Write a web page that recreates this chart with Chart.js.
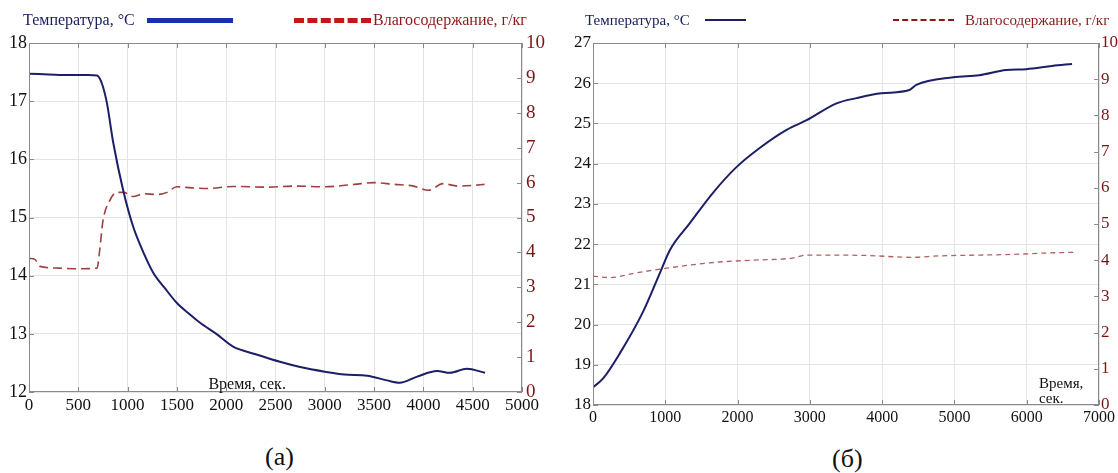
<!DOCTYPE html>
<html>
<head>
<meta charset="utf-8">
<script src="https://cdn.jsdelivr.net/npm/chart.js@4/dist/chart.umd.min.js"></script>
<style>
  body { margin: 0; background: #fff; width: 1118px; height: 473px; overflow: hidden; position: relative;
         font-family: 'Liberation Serif', 'DejaVu Serif', serif; }
  .box { position: absolute; }
  .lg { position: absolute; white-space: nowrap; line-height: 1; }
  .cap { position: absolute; font-size: 26px; line-height: 1; color: #111; }
</style>
</head>
<body>
<div class="box" style="left:0;top:0;width:560px;height:420px"><canvas id="chartA" width="560" height="420"></canvas></div>
<div class="box" style="left:560px;top:0;width:558px;height:440px"><canvas id="chartB" width="558" height="440"></canvas></div>

<!-- legends -->
<div class="lg" style="left:23px;top:12px;font-size:16px;color:#1c2060">Температура, °С</div>
<div class="lg" style="left:147px;top:18px;width:86px;height:0;border-top:5px solid #1530b0"></div>
<div class="lg" style="left:294px;top:18px;width:77px;height:0;border-top:5px dashed #c41818"></div>
<div class="lg" style="left:373px;top:12px;font-size:16px;color:#8a1818">Влагосодержание, г/кг</div>

<div class="lg" style="left:585px;top:13px;font-size:15px;color:#1c2060">Температура, °С</div>
<div class="lg" style="left:705px;top:19px;width:41px;height:0;border-top:2px solid #1c2060"></div>
<div class="lg" style="left:893px;top:19px;width:61px;height:0;border-top:2px dashed #8a1818"></div>
<div class="lg" style="left:965px;top:13px;font-size:15px;color:#8a1818">Влагосодержание, г/кг</div>

<div class="cap" style="left:265px;top:444px">(а)</div>
<div class="cap" style="left:832px;top:446px">(б)</div>

<script>
// ── Data: panel (а) ──────────────────────────────────────────────────────────
const tempTimeA = [0, 200, 400, 600, 690, 740, 790, 855, 955, 1057, 1160, 1260, 1380, 1500, 1620, 1735, 1900, 2070, 2300, 2545, 2750, 3000, 3200, 3430, 3630, 3760, 3930, 4140, 4270, 4440, 4625];
const tempValA  = [17.47, 17.46, 17.45, 17.45, 17.44, 17.3, 16.97, 16.28, 15.47, 14.84, 14.4, 14.05, 13.78, 13.53, 13.35, 13.19, 13.0, 12.78, 12.65, 12.52, 12.43, 12.35, 12.3, 12.28, 12.2, 12.16, 12.26, 12.36, 12.33, 12.4, 12.33];
const humTimeA  = [0, 60, 110, 300, 500, 690, 720, 750, 820, 890, 960, 1057, 1160, 1300, 1400, 1500, 1650, 1800, 2070, 2400, 2700, 3000, 3300, 3500, 3700, 3900, 4050, 4200, 4350, 4500, 4620];
const humValA   = [3.83, 3.8, 3.6, 3.55, 3.53, 3.55, 4.14, 4.9, 5.49, 5.72, 5.72, 5.6, 5.68, 5.66, 5.72, 5.88, 5.85, 5.83, 5.89, 5.87, 5.9, 5.88, 5.95, 6.0, 5.95, 5.9, 5.78, 5.97, 5.9, 5.92, 5.95];

// ── Data: panel (б) ──────────────────────────────────────────────────────────
const tempTimeB = [0, 140, 373, 690, 925, 1063, 1340, 1657, 1988, 2306, 2678, 2955, 3369, 3645, 3990, 4377, 4473, 4984, 5343, 5716, 5992, 6351, 6627];
const tempValB  = [18.44, 18.66, 19.29, 20.31, 21.28, 21.85, 22.52, 23.27, 23.92, 24.39, 24.84, 25.08, 25.5, 25.63, 25.75, 25.83, 25.96, 26.15, 26.2, 26.33, 26.35, 26.43, 26.48];
const humTimeB  = [0, 235, 600, 1020, 1400, 1750, 2200, 2760, 2955, 3369, 3800, 4400, 4800, 5300, 5800, 6300, 6700];
const humValB   = [3.56, 3.52, 3.65, 3.78, 3.88, 3.95, 4.0, 4.06, 4.14, 4.14, 4.13, 4.08, 4.12, 4.14, 4.16, 4.2, 4.22];

const NAVY = '#1c1f66';
const DARKRED = '#7a1515';
const FONT = 'Liberation Serif';

const pairs = (xs, ys) => xs.map((x, i) => ({ x, y: ys[i] }));

// ── Frame + inward tick marks ────────────────────────────────────────────────
const framePlugin = {
    id: 'frame',
    afterDraw(chart, args, opts) {
        const { ctx, chartArea: a, scales } = chart;
        ctx.save();
        ctx.strokeStyle = '#8a8a8a';
        ctx.lineWidth = 1;
        ctx.strokeRect(a.left + 0.5, a.top + 0.5, a.right - a.left - 1, a.bottom - a.top - 1);
        ctx.beginPath();
        scales.x.ticks.forEach(t => {
            const px = Math.round(scales.x.getPixelForValue(t.value)) + 0.5;
            ctx.moveTo(px, a.bottom); ctx.lineTo(px, a.bottom - 5);
            ctx.moveTo(px, a.top); ctx.lineTo(px, a.top + 5);
        });
        scales.y.ticks.forEach(t => {
            const py = Math.round(scales.y.getPixelForValue(t.value)) + 0.5;
            ctx.moveTo(a.left, py); ctx.lineTo(a.left + 5, py);
        });
        scales.y2.ticks.forEach(t => {
            const py = Math.round(scales.y2.getPixelForValue(t.value)) + 0.5;
            ctx.moveTo(a.right, py); ctx.lineTo(a.right - 5, py);
        });
        ctx.stroke();
        // axis caption inside the plot
        ctx.fillStyle = '#111';
        ctx.font = `${opts.size}px "${FONT}"`;
        ctx.textAlign = 'left';
        ctx.textBaseline = 'middle';
        opts.lines.forEach((line, i) => {
            const px = scales.x.getPixelForValue(opts.at[0]);
            const py = scales.y.getPixelForValue(opts.at[1]) + i * opts.size;
            ctx.fillText(line, px, py);
        });
        ctx.restore();
    }
};

function makeChart(id, cfg) {
    return new Chart(document.getElementById(id), {
        type: 'line',
        data: {
            datasets: [
                {
                    label: 'Температура, °С',
                    data: pairs(cfg.tTime, cfg.tVal),
                    borderColor: NAVY,
                    borderWidth: 2,
                    pointRadius: 0,
                    cubicInterpolationMode: 'monotone',
                    yAxisID: 'y',
                },
                {
                    label: 'Влагосодержание, г/кг',
                    data: pairs(cfg.hTime, cfg.hVal),
                    borderColor: cfg.dashColor,
                    borderWidth: cfg.dashWidth,
                    borderDash: cfg.dash,
                    pointRadius: 0,
                    cubicInterpolationMode: 'monotone',
                    yAxisID: 'y2',
                }
            ]
        },
        options: {
            responsive: false,
            animation: false,
            layout: { padding: { top: 43, left: 0, right: 0, bottom: 0 } },
            plugins: {
                legend: { display: false },
                tooltip: { enabled: false },
                frame: cfg.caption,
            },
            scales: {
                x: {
                    type: 'linear', min: 0, max: cfg.xMax,
                    ticks: {
                        stepSize: cfg.xStep, color: '#111', font: { family: FONT, size: cfg.xFont },
                        padding: 3, maxRotation: 0, callback: v => String(v)
                    },
                    grid: { color: '#e4e4e4', drawTicks: false },
                    border: { display: false },
                    afterFit: s => { s.height = cfg.xH; }
                },
                y: {
                    position: 'left', min: cfg.yMin, max: cfg.yMax,
                    ticks: { stepSize: 1, color: '#111', font: { family: FONT, size: cfg.yFont }, padding: 2 },
                    grid: { color: '#e4e4e4', drawTicks: false },
                    border: { display: false },
                    afterFit: s => { s.width = cfg.yW; }
                },
                y2: {
                    position: 'right', min: 0, max: 10,
                    ticks: { stepSize: 1, color: DARKRED, font: { family: FONT, size: cfg.y2Font }, padding: cfg.y2Pad },
                    grid: { display: false, drawTicks: false },
                    border: { display: false },
                    afterFit: s => { s.width = cfg.y2W; }
                }
            }
        },
        plugins: [framePlugin]
    });
}

makeChart('chartA', {
    tTime: tempTimeA, tVal: tempValA, hTime: humTimeA, hVal: humValA,
    dashColor: '#9e4040', dashWidth: 1.6, dash: [9, 5],
    xMax: 5000, xStep: 500, yMin: 12, yMax: 18,
    xFont: 17, yFont: 18, y2Font: 19, y2Pad: 4, xH: 28, yW: 29, y2W: 38,
    caption: { lines: ['Время, сек.'], at: [1820, 12.13], size: 16 }
});

makeChart('chartB', {
    tTime: tempTimeB, tVal: tempValB, hTime: humTimeB, hVal: humValB,
    dashColor: '#b06060', dashWidth: 1.3, dash: [5, 4],
    xMax: 7000, xStep: 1000, yMin: 18, yMax: 27,
    xFont: 16, yFont: 17, y2Font: 17, y2Pad: 2, xH: 35, yW: 33, y2W: 19,
    caption: { lines: ['Время,', 'сек.'], at: [6170, 18.52], size: 15 }
});
</script>
</body>
</html>
